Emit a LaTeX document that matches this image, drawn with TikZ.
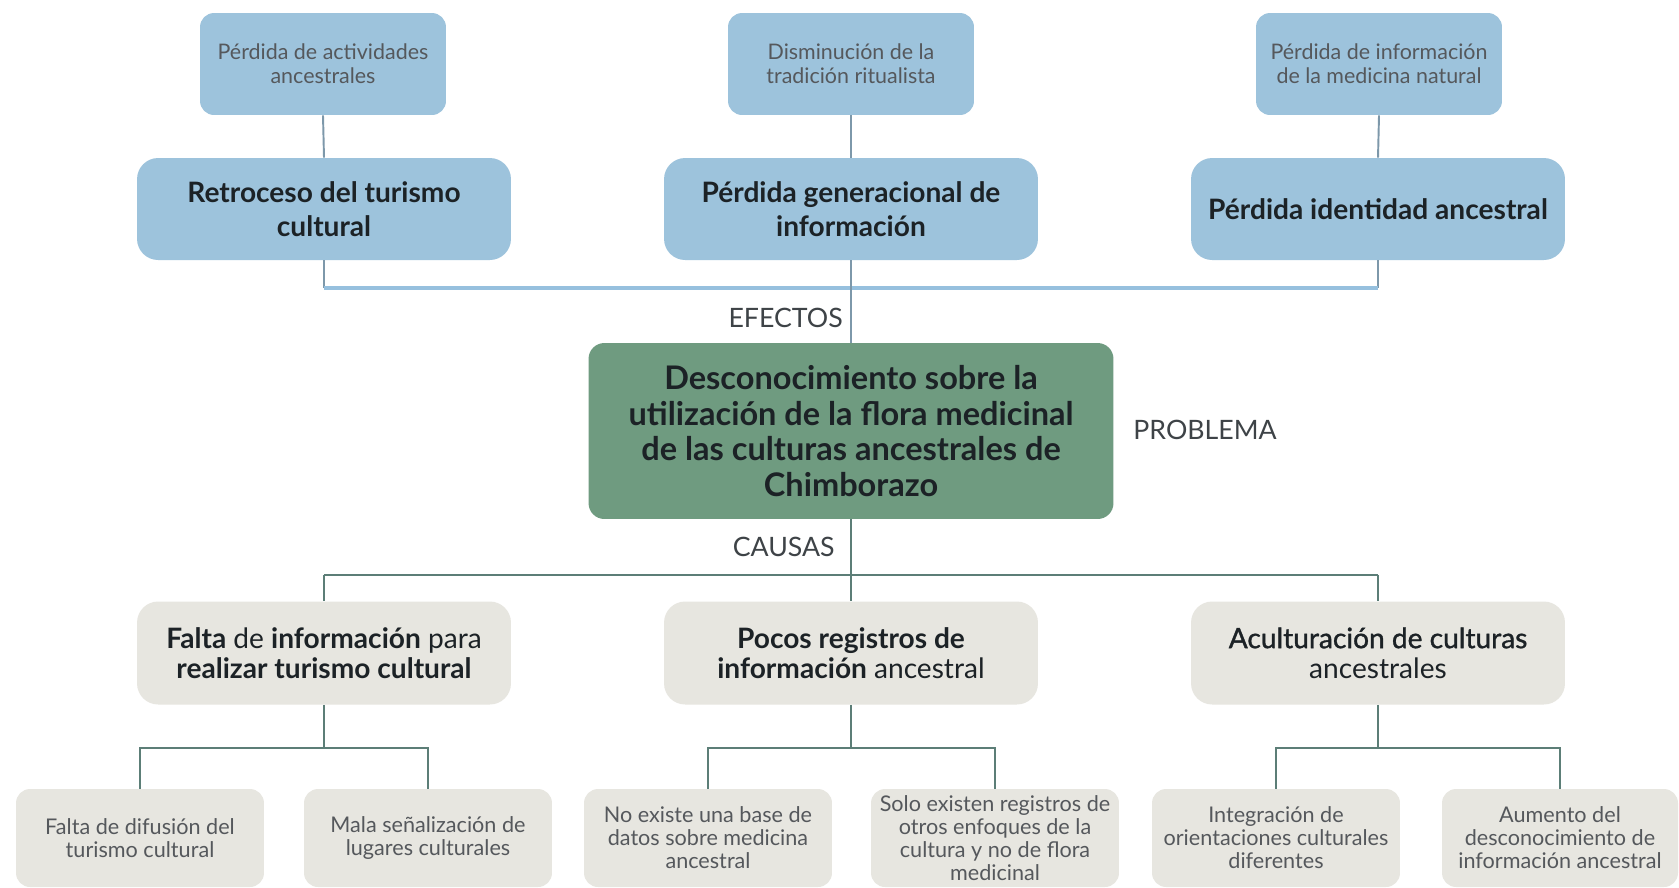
\documentclass[tikz,border=0pt]{standalone}
\usepackage{fontspec}
\setmainfont{Lato}
\newfontfamily\medio[FakeBold=1.2]{Lato}
\definecolor{azulcaja}{RGB}{157,195,220}
\definecolor{azullinea}{RGB}{150,192,222}
\definecolor{azulgris}{RGB}{125,152,170}
\definecolor{verdecaja}{RGB}{111,155,128}
\definecolor{griscaja}{RGB}{231,230,224}
\definecolor{causalinea}{RGB}{92,126,119}
\definecolor{textochico}{RGB}{85,88,92}
\definecolor{textofuerte}{RGB}{28,34,38}
\tikzset{
  efchico/.style={fill=azulcaja,rounded corners=8pt,minimum width=4.92cm,minimum height=2.04cm,inner sep=0pt,align=center,text=textochico,font=\fontsize{12.2}{13.7}\selectfont},
  efecto/.style={fill=azulcaja,rounded corners=12pt,minimum width=7.48cm,minimum height=2.04cm,inner sep=0pt,align=center,text=textofuerte,font=\fontsize{16}{19.4}\selectfont\bfseries},
  problema/.style={fill=verdecaja,rounded corners=9pt,minimum width=10.5cm,minimum height=3.52cm,inner sep=0pt,align=center,text=textofuerte,font=\fontsize{18.5}{20.2}\selectfont\bfseries},
  causa/.style={fill=griscaja,rounded corners=12pt,minimum width=7.48cm,minimum height=2.06cm,inner sep=0pt,align=center,text=textofuerte,font=\fontsize{16}{17.2}\selectfont},
  cauchico/.style={fill=griscaja,rounded corners=8pt,minimum width=4.96cm,minimum height=1.96cm,inner sep=0pt,align=center,text=textochico,font=\fontsize{12.3}{13.1}\selectfont},
  rotulo/.style={text=textofuerte!85,font=\fontsize{15.2}{17}\selectfont,inner sep=0pt},
  lineaefe/.style={draw=azulgris,line width=1.1pt},
  lineaazul/.style={draw=azullinea,line width=1.8pt},
  lineacausa/.style={draw=causalinea,line width=1.4pt}
}
\begin{document}
\begin{tikzpicture}[x=0.02cm,y=-0.02cm]
\useasboundingbox[fill=white](0,0) rectangle (1679,887);
\node[efchico] (a1) at(323,64){Pérdida de actividades\\ancestrales};
\node[efchico] (a2) at(851,64){Disminución de la\\tradición ritualista};
\node[efchico] (a3) at(1379,64){Pérdida de información\\de la medicina natural};
\node[efecto] (e1) at(324,209){Retroceso del turismo\\cultural};
\node[efecto] (e2) at(851,209){Pérdida generacional de\\información};
\node[efecto] (e3) at(1378,209){Pérdida identidad ancestral};
\node[problema] (prob) at(851,431){Desconocimiento sobre la\\utilización de la flora medicinal\\de las culturas ancestrales de\\Chimborazo};
\node[causa] (c1) at(324,653){\textbf{Falta} de \textbf{información} para\\\textbf{realizar turismo cultural}};
\node[causa] (c2) at(851,653){\textbf{Pocos registros de}\\\textbf{información} ancestral};
\node[causa] (c3) at(1378,653){{\medio Aculturación de culturas}\\ancestrales};
\node[cauchico] (b1) at(140,838){Falta de difusión del\\turismo cultural};
\node[cauchico] (b2) at(428,838){Mala señalización de\\lugares culturales};
\node[cauchico] (b3) at(708,838){No existe una base de\\datos sobre medicina\\ancestral};
\node[cauchico] (b4) at(995,838){Solo existen registros de\\otros enfoques de la\\cultura y no de flora\\medicinal};
\node[cauchico] (b5) at(1276,838){Integración de\\orientaciones culturales\\diferentes};
\node[cauchico,minimum width=4.72cm] (b6) at(1560,838){Aumento del\\desconocimiento de\\información ancestral};
\node[rotulo,anchor=east] (efe) at(843,318){EFECTOS};
\node[rotulo,anchor=west] (pro) at(1133,430){PROBLEMA};
\node[rotulo,anchor=east] (cau) at(835,547){CAUSAS};
\coordinate (ef) at(851,288);
\coordinate (ca) at(851,575);
\draw[lineaefe](a1.south)--(e1.north);
\draw[lineaefe](a2.south)--(e2.north);
\draw[lineaefe](a3.south)--(e3.north);
\draw[lineaefe](e1.south)--(e1.south|-ef);
\draw[lineaefe](e3.south)--(e3.south|-ef);
\draw[lineaazul](e1.south|-ef)--(e3.south|-ef);
\draw[lineaefe](e2.south)--(prob.north);
\draw[lineacausa](prob.south)--(c2.north);
\draw[lineacausa](c1.north|-ca)--(c3.north|-ca);
\draw[lineacausa](c1.north|-ca)--(c1.north);
\draw[lineacausa](c3.north|-ca)--(c3.north);
\foreach \c/\l/\r in {c1/b1/b2,c2/b3/b4,c3/b5/b6}{
  \coordinate (s) at(\c.south|-0,748);
  \draw[lineacausa](\c.south)--(s);
  \draw[lineacausa](\l.north)|-(s)-|(\r.north);
}
\end{tikzpicture}
\end{document}
